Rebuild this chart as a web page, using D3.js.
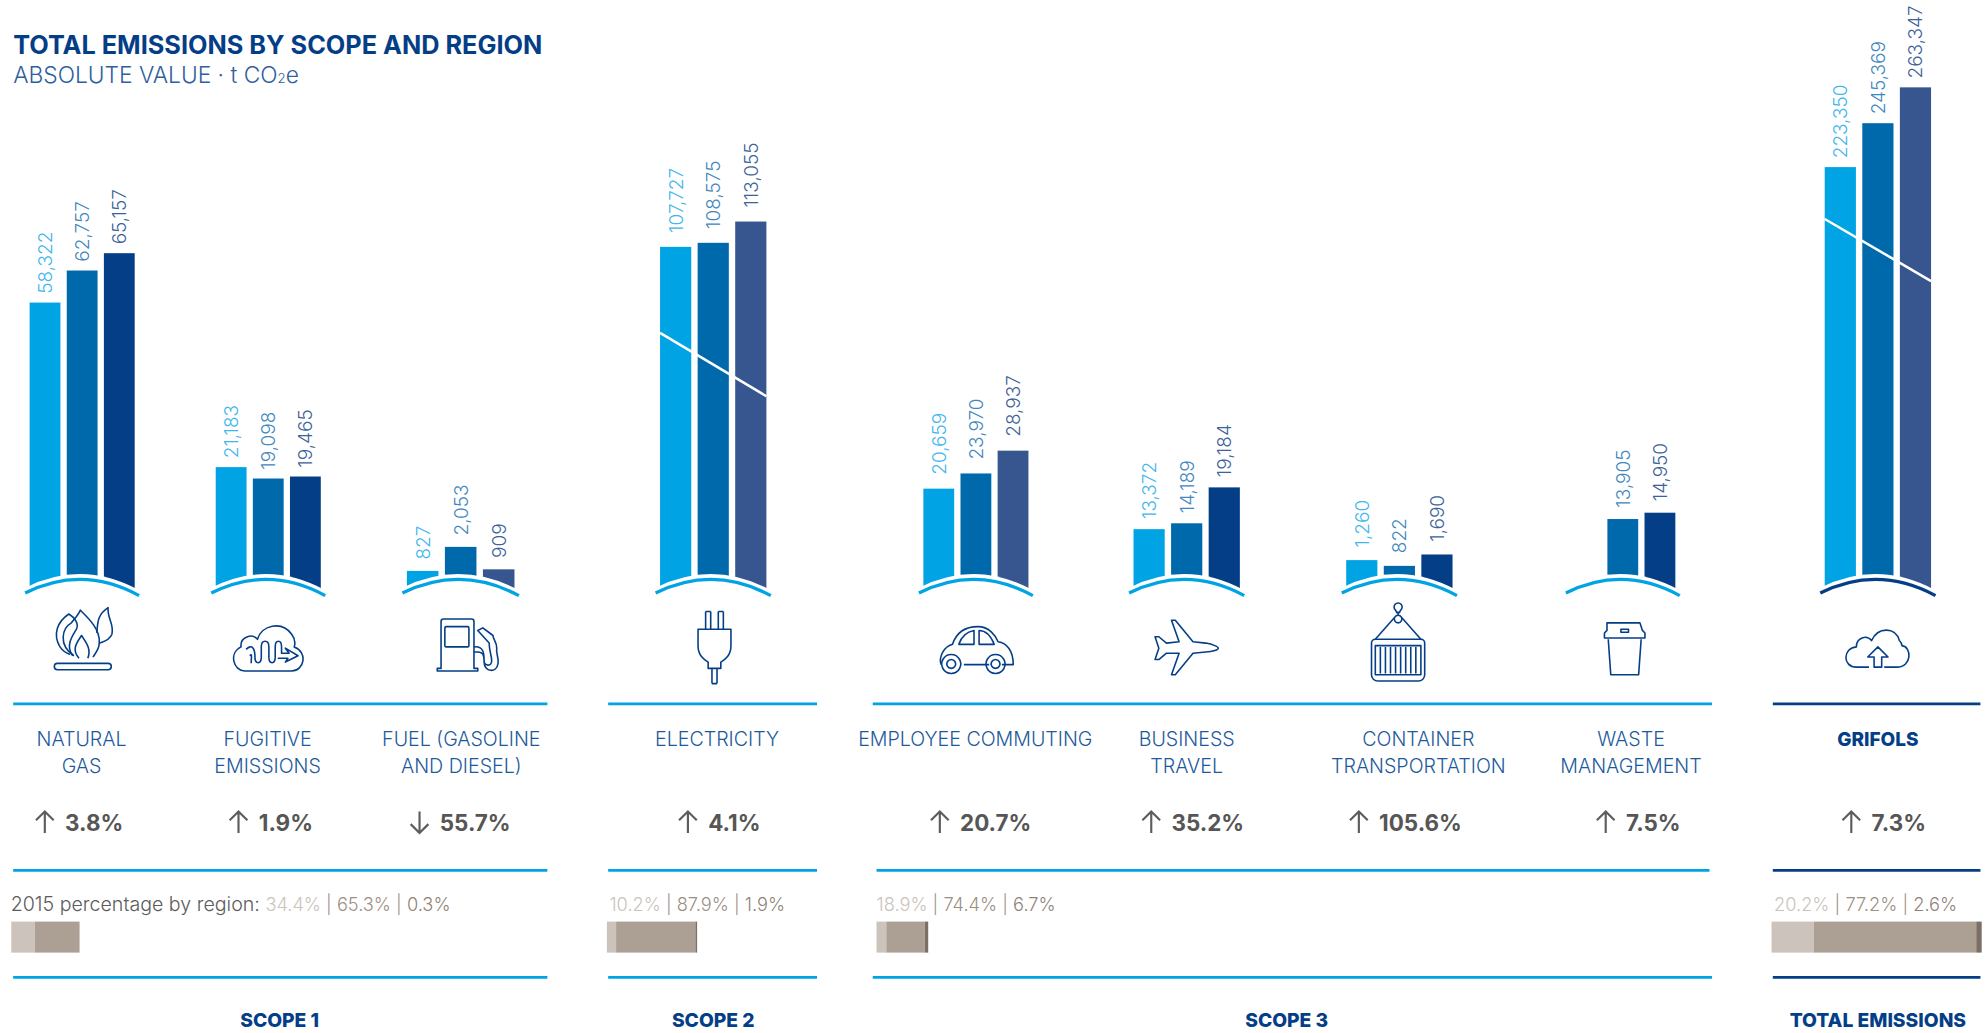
<!DOCTYPE html>
<html><head><meta charset="utf-8">
<script src="https://cdn.jsdelivr.net/npm/d3@7/dist/d3.min.js"></script>
<style>
html,body{margin:0;padding:0;background:#fff}
svg{display:block}
text{font-family:Inter,"Open Sans",sans-serif}
</style></head><body><div id="chart"></div>
<script>
// ---------- DATA ----------
const categories = ["NATURAL|GAS","FUGITIVE|EMISSIONS","FUEL (GASOLINE|AND DIESEL)","ELECTRICITY","EMPLOYEE COMMUTING","BUSINESS|TRAVEL","CONTAINER|TRANSPORTATION","WASTE|MANAGEMENT","GRIFOLS"];
const seriesA = [58322,21183,827,107727,20659,13372,1260,null,223350];
const seriesB = [62757,19098,2053,108575,23970,14189,822,13905,245369];
const seriesC = [65157,19465,909,113055,28937,19184,1690,14950,263347];
const changePct = ["3.8%","1.9%","55.7%","4.1%","20.7%","35.2%","105.6%","7.5%","7.3%"];
const changeDir = ["up","up","down","up","up","up","up","up","up"];
const scopeNames = ["SCOPE 1","SCOPE 2","SCOPE 3","TOTAL EMISSIONS"];
const scopeMembers = [[0,1,2],[3],[4,5,6,7],[0,1,2,3,4,5,6,7]];
const regionShare = [[34.4,65.3,0.3],[10.2,87.9,1.9],[18.9,74.4,6.7],[20.2,77.2,2.6]];
const iconNames = ["flame","cloudWave","pump","plug","car","plane","box","cup","cloudUp"];

// ---------- LAYOUT / STYLE (reference units, 1568 wide) ----------
const panelX = [[23,106],[170,253],[321,406],[521,605],[729,812],[895,979],[1063,1147],[1240,1323],[1441,1525]];
const panelTopRange = [[239,200],[378,369],[451,432],[195,175],[386,356],[418,385],[447,438],[410,405],[132,69]];
const labelGap = [7,7,9,11,11,8,10,9,7];
const thirdColor = ["#043e87","#043e87","#37558f","#37558f","#37558f","#043e87","#043e87","#043e87","#37558f"];
const labelX = [64,211,364,566,770,937,1120,1288,1483];
const arrowX = [35,188,331,543,742,909,1073,1268,1462];
const iconAt = [[65,505],[211,511],[368,510],[564,511],[771,511],[936,511],[1104,509],[1283,512],[1483,512]];
const breaks = [null,null,null,[263,313],null,null,null,null,[173,222]];
const ruleSpans = [[10,432],[480,645],[689,1352],[1400,1564]];
const ruleSpansMid = [[10,432],[480,645],[692,1350],[1400,1564]];
const regionX = [8,481,692,1401];
const stackX = [8.5,479,692,1399];
const scopeLabelX = [220.5,563,1016,1483];

const W = 1568, H = 816, BLUE = "#00a3e4", NAVY = "#043e87";
const svg = d3.select("#chart").append("svg").attr("width",1986).attr("height",1033).attr("viewBox",`0 0 ${W} ${H}`);

// ---------- heading ----------
svg.append("text").attr("x",10).attr("y",43).attr("font-size",20).attr("font-weight",700).attr("fill",NAVY).text("TOTAL EMISSIONS BY SCOPE AND REGION");
const sub = svg.append("text").attr("x",10).attr("y",65.5).attr("font-size",18).attr("font-weight",300).attr("fill","#2f5f9f");
sub.append("tspan").text("ABSOLUTE VALUE · t CO");
sub.append("tspan").attr("font-size",10.5).text("2");
sub.append("tspan").text("e");

// ---------- bars ----------
const slots = ["a","b","c"];
const valueColors = ["#3fb6ec","#3f87bd","#3c6299"];
categories.forEach((c,i)=>{
  const vals = [seriesA[i],seriesB[i],seriesC[i]];
  const [x0,x1] = panelX[i];
  const x = d3.scaleBand().domain(slots).range([x0,x1]).paddingInner(0.17);
  // each panel has its own truncated value axis, as in the original graphic
  const y = d3.scaleLinear().domain(d3.extent(vals.filter(v=>v!=null))).range(panelTopRange[i]);
  const colors = [BLUE,"#0069ab",thirdColor[i]];
  const g = svg.append("g");
  const rows = vals.map((v,k)=>({v,k})).filter(d=>d.v!=null);
  g.selectAll("rect").data(rows).join("rect")
    .attr("x",d=>x(slots[d.k])).attr("width",x.bandwidth())
    .attr("y",d=>y(d.v)).attr("height",d=>474-y(d.v))
    .attr("fill",d=>colors[d.k]);
  // curved base: white mask that cuts the feet of the bars, then the coloured arc
  const L=x0-3.5,R=x1+3.5,M=(L+R)/2;
  const arc=(o)=>`M${L},${468.5+o} Q${M},${446+o} ${R},${470.5+o}`;
  g.append("path").attr("d",arc(-4.3)+` L${R},480 L${L},480 Z`).attr("fill","#fff");
  g.append("path").attr("d",arc(0)).attr("fill","none").attr("stroke",i===8?NAVY:BLUE).attr("stroke-width",2.6);
  // broken axis slash
  if(breaks[i]) g.append("line").attr("x1",x0).attr("x2",x1).attr("y1",breaks[i][0]).attr("y2",breaks[i][1]).attr("stroke","#fff").attr("stroke-width",2);
  // value labels
  g.selectAll("text").data(rows).join("text")
    .attr("transform",d=>`translate(${x(slots[d.k])+x.bandwidth()/2+5.5},${y(d.v)-labelGap[i]}) rotate(-90)`)
    .attr("font-size",15).attr("font-weight",300).attr("fill",d=>valueColors[d.k])
    .text(d=>d3.format(",")(d.v));
  // category label
  const lines=c.split("|");
  lines.forEach((t,k)=>svg.append("text").attr("x",labelX[i]).attr("y",589+k*21.3).attr("text-anchor","middle")
    .attr("font-size",i===8?15:15.5).attr("font-weight",i===8?800:300).attr("fill",i===8?NAVY:"#1d5a9c").text(t));
  // change
  const ax=arrowX[i], up=changeDir[i]==="up";
  const tipY=up?641:658, endY=up?658:641, s=up?1:-1;
  svg.append("path").attr("d",`M${ax},${endY} L${ax},${tipY} M${ax-7},${tipY+7*s} L${ax},${tipY} L${ax+7},${tipY+7*s}`)
    .attr("fill","none").attr("stroke","#5d5d5d").attr("stroke-width",1.7);
  svg.append("text").attr("x",ax+16).attr("y",656.5).attr("font-size",17.7).attr("font-weight",700).attr("fill","#565656").text(changePct[i]);
});

// ---------- rules ----------
[[556,ruleSpans],[687.5,ruleSpansMid],[772,ruleSpans]].forEach(([yy,spans])=>{
  spans.forEach((s,i)=>svg.append("line").attr("x1",s[0]).attr("x2",s[1]).attr("y1",yy).attr("y2",yy)
    .attr("stroke",i===3?NAVY:BLUE).attr("stroke-width",2.2));
});

// ---------- region shares ----------
const shareColors = ["#cbc3bc","#ac9f94","#7d6f63"];
const scopeTotals = scopeMembers.map(m=>d3.sum(m,i=>seriesC[i]));
const wScale = d3.scaleLinear().domain([0,d3.max(scopeTotals)]).range([0,166]);
scopeNames.forEach((n,i)=>{
  const t = svg.append("text").attr("x",regionX[i]).attr("y",719.5).attr("font-size",14.4).attr("font-weight",300);
  if(i===0) t.append("tspan").attr("fill","#5c5c5c").attr("font-size",15.5).text("2015 percentage by region: ");
  regionShare[i].forEach((p,k)=>{
    t.append("tspan").attr("fill",["#cbc3bc","#9c8f84","#8f8378"][k]).text(p.toFixed(1)+"%");
    if(k<2) t.append("tspan").attr("fill","#9c8f84").text(" | ");
  });
  let acc=0;
  regionShare[i].forEach((p,k)=>{
    const w=wScale(scopeTotals[i]*p/100);
    svg.append("rect").attr("x",stackX[i]+acc).attr("y",728).attr("width",w).attr("height",24.5).attr("fill",shareColors[k]);
    acc+=w;
  });
  svg.append("text").attr("x",scopeLabelX[i]).attr("y",811.5).attr("text-anchor","middle").attr("font-size",15.2).attr("font-weight",800).attr("fill",NAVY).text(n);
});

// ---------- icons (line glyphs, local coordinates around their centre) ----------
const icons = {
 flame:["M-20,19 h40 a2,2 0 0 1 0,5 h-40 a2,2 0 0 1 0,-5 Z",
  "M-7,13 C-20,4 -16,-9 -9,-13 C-6,-17 -3,-20 -2,-23 C4,-17 14,-8 13,3 C13,8 10,11 8,14",
  "M-8,13 C-14,5 -8,-3 -5,-8 C-3,-12 -6,-17 -11,-20 C-20,-14 -24,-4 -18,6 C-16,9 -13,11 -10,12",
  "M11,-5 C12,-13 11,-19 20,-25 C19,-17 25,-12 23,-4 C21,1 16,2 13,3",
  "M-3,15 C-9,8 -5,3 -1,-3 C2,2 7,7 4,15"],
 cloudWave:["M-18,19 C-27,19 -31,5 -21,0 C-22,-8 -12,-11 -8,-6 C-5,-17 11,-21 19,-10 C22,-6 22,-3 21,0 C32,4 29,19 19,19 Z",
  "M-17,2 C-12,-3 -10,2 -10,8 C-10,14 -5,14 -5,8 L-5,0 C-5,-6 1,-6 1,0 L1,8 C1,14 6,14 6,8 L6,0 C6,-6 11,-6 11,0 L11,5 L17,5 L14,1 L24,7 L14,12 L16,9 L8,9",
  "M-14,7 C-12,4 -13,10 -13,13"],
 pump:["M-22,20 h-1 v-2 h3 v-37 a2,2 0 0 1 2,-2 h22 a2,2 0 0 1 2,2 v37 h3 v2 Z",
  "M-16,-15 h17 a1,1 0 0 1 1,1 v14 a1,1 0 0 1 -1,1 h-17 a1,1 0 0 1 -1,-1 v-14 a1,1 0 0 1 1,-1 Z",
  "M6,5 h3 c5,0 5,4 5,8 c0,8 10,9 11,1 c1,-4 -2,-8 -1,-12 c0,-5 -3,-7 -3,-10 l-8,-6 l-4,2 l9,10 c0,6 2,10 2,14 c0,5 -6,4 -6,0 c0,-5 0,-12 -8,-11"],
 plug:["M-7,-28 v14 M-3,-28 v14 M-7,-28 h4 M3,-28 v14 M7,-28 v14 M3,-28 h4",
  "M-13,-14 h26 v13 c0,8 -5,11 -8,13 v5 h-10 v-5 c-3,-2 -8,-5 -8,-13 Z",
  "M-2,17 v12 M2,17 v12 M-2,29 h4"],
 car:["M-28,14 C-30,8 -26,0 -19,-2 C-16,-11 -9,-16 1,-16 C10,-16 15,-9 17,-4 C24,-3 29,3 29,14 L20,14 M10,14 L-10,14",
  "M-14,-2 C-12,-8 -8,-12 -2,-13 L-2,-2 Z",
  "M2,-13 C8,-13 12,-7 14,-2 L2,-2 Z",
  "M-20,6 a7.5,7.5 0 1 0 .01,0 Z M-20,10 a3.5,3.5 0 1 0 .01,0 Z",
  "M15,6 a7.5,7.5 0 1 0 .01,0 Z M15,10 a3.5,3.5 0 1 0 .01,0 Z"],
 plane:["M-24,-8 L-21,-8 L-15,-3 L-5,-4 L-11,-21 L-8,-21 L6,-4 L16,-3 C22,-2 26,0 26,1 C26,2 22,4 16,4 L6,5 L-8,22 L-11,22 L-5,5 L-15,5 L-21,10 L-24,10 L-21,1 Z"],
 box:["M-21,-1 a3,3 0 0 1 3,-3 h36 a3,3 0 0 1 3,3 v25 a5,5 0 0 1 -5,5 h-32 a5,5 0 0 1 -5,-5 Z",
  "M-18,1 h36 v23 h-36 Z",
  "M-14,2 v21 M-10,2 v21 M-6,2 v21 M-2,2 v21 M2,2 v21 M6,2 v21 M10,2 v21 M14,2 v21",
  "M-18,-4 L-3,-21 M18,-4 L3,-21",
  "M0,-23 a3,3 0 1 0 .01,0 Z M0,-23 v-3 M-2,-27 a3.2,3.2 0 1 1 4,0 l-1,2 h-2 Z"],
 cup:["M-14,-20 h26 l2,6 l2,2 v4 h-32 v-4 l2,-2 Z M-3,-15 h6 v2.5 h-6 Z",
  "M-13,-7 l2,28 h22 l2,-28"],
 cloudUp:["M-7,15 h-10 C-28,15 -28,0 -17,-1 C-17,-8 -9,-11 -5,-6 C0,-17 14,-17 17,-6 C19,-4 19,-3 19,-2 C27,-1 27,15 15,15 H5",
  "M-3,15 v-8 h-5 l8,-8 l8,8 h-5 v8 Z"]
};
iconNames.forEach((n,i)=>{
  svg.append("g").attr("transform",`translate(${iconAt[i][0]},${iconAt[i][1]})`)
    .selectAll("path").data(icons[n]).join("path").attr("d",d=>d)
    .attr("fill","none").attr("stroke",NAVY).attr("stroke-width",1.25).attr("stroke-linejoin","round");
});
</script></body></html>
